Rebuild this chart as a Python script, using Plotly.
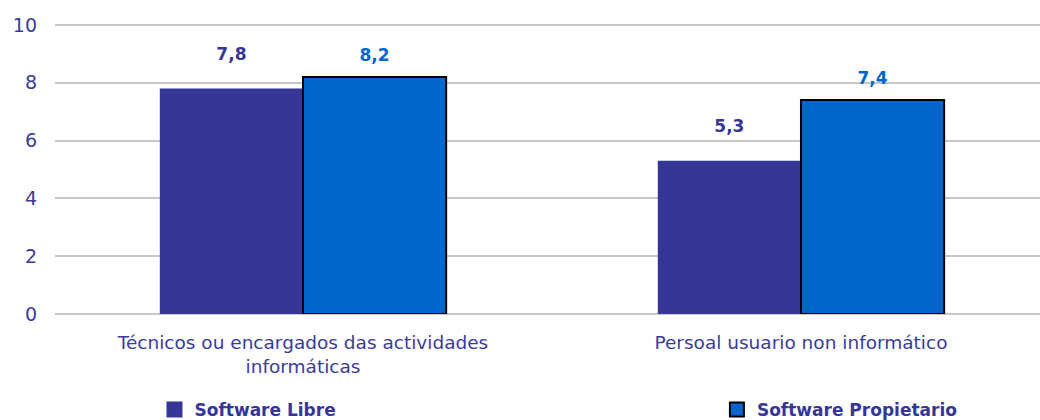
import plotly.graph_objects as go

categories = ["Técnicos ou encargados das actividades<br>informáticas", "Persoal usuario non informático"]
libre = [7.8, 5.3]
propietario = [8.2, 7.4]
y_ticks = [0, 2, 4, 6, 8, 10]

c_libre = "#363696"
c_prop = "#0066CC"
c_text = "#3B3B9B"
font_fam = "Verdana, DejaVu Sans, sans-serif"

fig = go.Figure()
fig.add_trace(go.Bar(
    x=categories, y=libre, name="Software Libre", offsetgroup="libre",
    marker=dict(color=c_libre, line=dict(width=0)),
    showlegend=False, hoverinfo="skip",
))
fig.add_trace(go.Bar(
    x=categories, y=propietario, name="Software Propietario", offsetgroup="prop",
    marker=dict(color=c_prop, line=dict(width=2, color="black")),
    showlegend=False, hoverinfo="skip",
))
# value labels (invisible markers give the gap above the bars)
fig.add_trace(go.Scatter(
    x=categories, y=libre, mode="markers+text", offsetgroup="libre",
    marker=dict(size=38, color="rgba(0,0,0,0)"),
    texttemplate="%{y:.1f}", textposition="top center",
    textfont=dict(color=c_libre, size=17, family=font_fam, weight="bold"),
    cliponaxis=False, showlegend=False,
))
fig.add_trace(go.Scatter(
    x=categories, y=propietario, mode="markers+text", offsetgroup="prop",
    marker=dict(size=17, color="rgba(0,0,0,0)"),
    texttemplate="%{y:.1f}", textposition="top center",
    textfont=dict(color=c_prop, size=17, family=font_fam, weight="bold"),
    cliponaxis=False, showlegend=False,
))
# legend entries
fig.add_trace(go.Scatter(
    x=[None], y=[None], mode="markers", name="Software Libre",
    marker=dict(symbol="square", size=16, color=c_libre, line=dict(width=0)),
    legend="legend",
))
fig.add_trace(go.Scatter(
    x=[None], y=[None], mode="markers", name="Software Propietario",
    marker=dict(symbol="square", size=14, color=c_prop, line=dict(width=2, color="black")),
    legend="legend2",
))

fig.update_layout(
    width=1040, height=420,
    margin=dict(l=55, r=0, t=22, b=106),
    paper_bgcolor="white", plot_bgcolor="white",
    separators=",.",
    barmode="group", scattermode="group", bargap=0.425, bargroupgap=0,
    font=dict(family=font_fam, color=c_text),
    yaxis=dict(range=[0, 10.1], tickvals=y_ticks, showgrid=True, gridcolor="#C8C8C8",
               gridwidth=2, zeroline=True, zerolinecolor="#C8C8C8", zerolinewidth=2,
               tickfont=dict(size=19, color=c_text), ticks="", showline=False,
               automargin=False, ticklabelstandoff=17),
    xaxis=dict(range=[-0.498, 1.48], tickfont=dict(size=18.5, color=c_text), showline=False,
               ticks="", automargin=False, ticklabelstandoff=15),
    legend=dict(x=0.101, y=0.024, yref="container", xanchor="left", yanchor="middle",
                itemsizing="trace",
                font=dict(size=17, color=c_libre, weight="bold"), bgcolor="rgba(0,0,0,0)"),
    legend2=dict(x=0.672, y=0.024, yref="container", xanchor="left", yanchor="middle",
                 itemsizing="trace",
                 font=dict(size=17, color=c_libre, weight="bold"), bgcolor="rgba(0,0,0,0)"),
    showlegend=True,
    hovermode=False,
)

fig.write_html("out.html", config={"displayModeBar": False},
               post_script="document.body.style.margin='0';document.body.style.overflow='hidden';")
